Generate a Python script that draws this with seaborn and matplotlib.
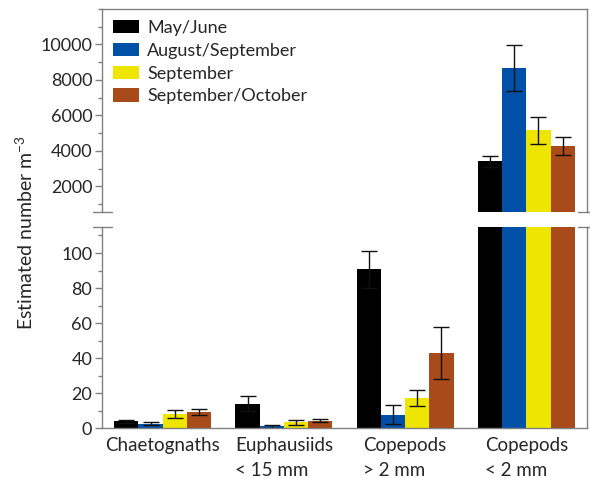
import seaborn as sns
import pandas as pd
import matplotlib.pyplot as plt
from matplotlib.ticker import MultipleLocator, FixedLocator

# data
taxa = ['Chaetognaths', 'Euphausiids\n< 15 mm', 'Copepods\n> 2 mm', 'Copepods\n< 2 mm']
seasons = ['May/June', 'August/September', 'September', 'September/October']
may_june = [4.1, 14.0, 90.7, 3400]
aug_sep = [2.7, 1.1, 7.8, 8670]
september = [8.0, 3.4, 17.2, 5150]
sep_oct = [9.3, 4.4, 43.0, 4290]
may_june_err = [0.8, 4.2, 10.5, 330]
aug_sep_err = [1.0, 1.0, 5.5, 1280]
september_err = [2.3, 1.4, 4.6, 740]
sep_oct_err = [1.7, 0.9, 15.0, 510]
colors = ['#000000', '#0050A8', '#EEE600', '#A84A1A']

means = [may_june, aug_sep, september, sep_oct]
errs = [may_june_err, aug_sep_err, september_err, sep_oct_err]
df = pd.DataFrame({
    'taxon': [t for s in seasons for t in taxa],
    'season': [s for s in seasons for t in taxa],
    'value': [v for m in means for v in m],
})
palette = dict(zip(seasons, colors))

sns.set_style('white')
plt.rcParams['font.family'] = ['Lato', 'DejaVu Sans']
plt.rcParams['font.size'] = 13

fig = plt.figure(figsize=(5.9, 4.78), dpi=100)
ax_top = fig.add_axes([0.1729, 0.5565, 0.822, 0.4247])
ax_bot = fig.add_axes([0.1729, 0.104, 0.822, 0.4217])
grey = '#808080'

for ax in (ax_top, ax_bot):
    sns.barplot(data=df, x='taxon', y='value', hue='season', order=taxa,
                hue_order=seasons, palette=palette, saturation=1,
                errorbar=None, width=0.8, linewidth=0, ax=ax, legend=(ax is ax_top))
    # error bars on the bar centres
    for cont, e in zip(ax.containers, errs):
        xs = [b.get_x() + b.get_width() / 2 for b in cont]
        ys = [b.get_height() for b in cont]
        ax.errorbar(xs, ys, yerr=e, fmt='none', ecolor='#111111', elinewidth=1,
                    capsize=6, capthick=1)
    ax.set_xlim(-0.5, 3.5)
    ax.set_xlabel('')
    ax.set_ylabel('')
    for sp in ax.spines.values():
        sp.set_color(grey)
        sp.set_linewidth(1)
    ax.tick_params(axis='y', which='major', direction='out', length=5, width=1,
                   color=grey, labelsize=13, pad=2, left=True)
    ax.tick_params(axis='y', which='minor', direction='out', length=3, width=1,
                   color=grey, left=True)
    ax.tick_params(axis='x', length=0)

ax_top.set_ylim(550, 12000)
ax_top.yaxis.set_major_locator(FixedLocator([2000, 4000, 6000, 8000, 10000]))
ax_top.yaxis.set_minor_locator(MultipleLocator(1000))
ax_top.spines['bottom'].set_visible(False)
ax_top.set_xticks([])

ax_bot.set_ylim(0, 115)
ax_bot.yaxis.set_major_locator(FixedLocator([0, 20, 40, 60, 80, 100]))
ax_bot.yaxis.set_minor_locator(MultipleLocator(10))
ax_bot.spines['top'].set_visible(False)
ax_bot.set_xticks(range(len(taxa)))
ax_bot.set_xticklabels(taxa, fontsize=13.5, multialignment='left', linespacing=1.6)
ax_bot.tick_params(axis='x', pad=6)

# break marks
for ax, y in ((ax_top, 0), (ax_bot, 1)):
    ax.plot([-0.019, 0.02], [y, y], color=grey, lw=1, clip_on=False, transform=ax.transAxes)
    ax.plot([0.981, 1.01], [y, y], color=grey, lw=1, clip_on=False, transform=ax.transAxes)

leg = ax_top.legend(loc='upper left', frameon=False, fontsize=13,
                    handlelength=1.45, handleheight=0.75, handletextpad=0.45,
                    labelspacing=0.38, borderaxespad=0.3, borderpad=0.3)

fig.text(0.042, 0.513, 'Estimated number m$^{\\mathregular{-3}}$', rotation=90, ha='center',
         va='center', fontsize=14)

fig.savefig('out.png', dpi=100)
